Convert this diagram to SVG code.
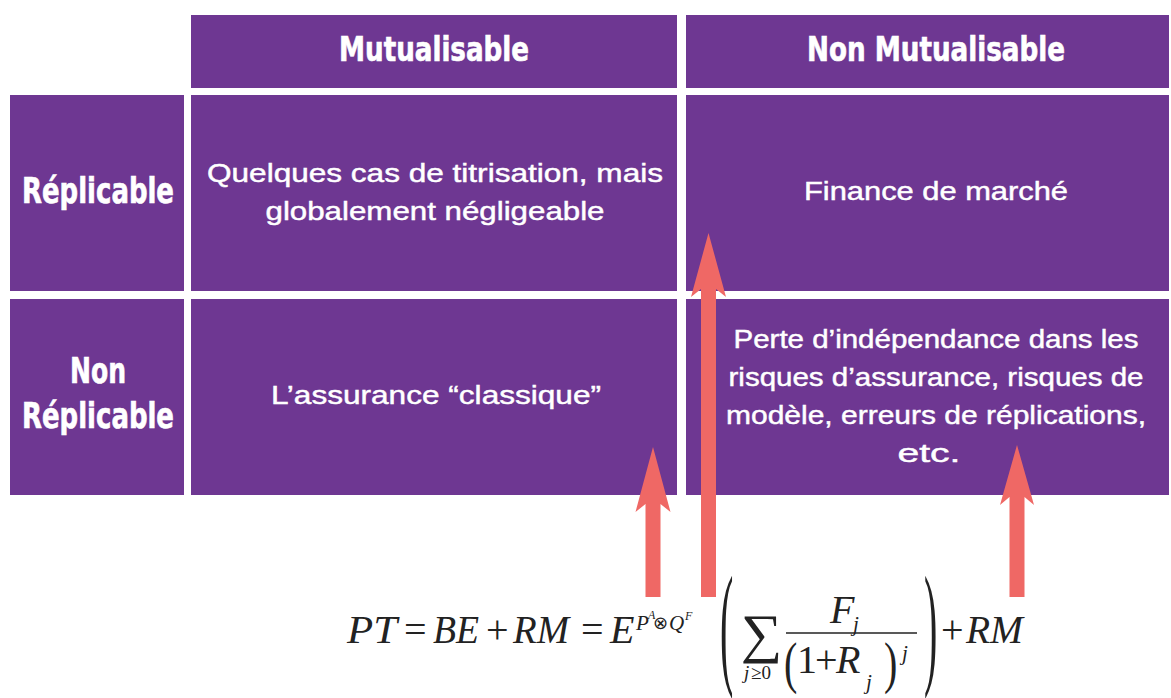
<svg xmlns="http://www.w3.org/2000/svg" width="1171" height="698" viewBox="0 0 1171 698">
<style>
.cell{fill:#6e3792}
.hd{font-family:"Liberation Sans Narrow","DejaVu Sans Condensed","Liberation Sans",sans-serif;font-weight:bold;fill:#ffffff;text-anchor:middle;stroke:#ffffff;stroke-width:0.6}
.bd{font-family:"Liberation Sans",Arial,sans-serif;fill:#ffffff;text-anchor:middle;font-size:26px;stroke:#ffffff;stroke-width:0.45}
.arrow{fill:#ef6865}
.m{font-family:"Liberation Serif","Times New Roman",serif;fill:#222222}
.i{font-style:italic}
</style>
<rect width="1171" height="698" fill="#ffffff"/>
<g id="header-mutualisable">
<rect class="cell" x="191" y="15" width="486" height="73"/>
<text class="hd" x="434" y="61" font-size="33" textLength="190" lengthAdjust="spacingAndGlyphs">Mutualisable</text>
</g>
<g id="header-non-mutualisable">
<rect class="cell" x="686" y="15" width="483" height="73"/>
<text class="hd" x="936" y="61" font-size="33" textLength="258" lengthAdjust="spacingAndGlyphs">Non Mutualisable</text>
</g>
<g id="row-replicable">
<rect class="cell" x="10" y="95" width="174" height="196"/>
<text class="hd" x="98" y="203" font-size="35" textLength="152" lengthAdjust="spacingAndGlyphs">Réplicable</text>
</g>
<g id="row-non-replicable">
<rect class="cell" x="10" y="299" width="174" height="196"/>
<text class="hd" x="98" y="383" font-size="35" textLength="56" lengthAdjust="spacingAndGlyphs">Non</text>
<text class="hd" x="98" y="428" font-size="35" textLength="152" lengthAdjust="spacingAndGlyphs">Réplicable</text>
</g>
<g id="cell-rep-mut">
<rect class="cell" x="191" y="95" width="486" height="196"/>
<text class="bd" x="435" y="182" textLength="456" lengthAdjust="spacingAndGlyphs">Quelques cas de titrisation, mais</text>
<text class="bd" x="435" y="220" textLength="339" lengthAdjust="spacingAndGlyphs">globalement négligeable</text>
</g>
<g id="cell-rep-nonmut">
<rect class="cell" x="686" y="95" width="483" height="196"/>
<text class="bd" x="936" y="200" textLength="264" lengthAdjust="spacingAndGlyphs">Finance de marché</text>
</g>
<g id="cell-nonrep-mut">
<rect class="cell" x="191" y="299" width="486" height="196"/>
<text class="bd" x="436" y="404" textLength="330" lengthAdjust="spacingAndGlyphs">L’assurance “classique”</text>
</g>
<g id="cell-nonrep-nonmut">
<rect class="cell" x="686" y="299" width="483" height="196"/>
<text class="bd" x="936" y="348" textLength="405" lengthAdjust="spacingAndGlyphs">Perte d’indépendance dans les</text>
<text class="bd" x="936" y="386" textLength="415" lengthAdjust="spacingAndGlyphs">risques d’assurance, risques de</text>
<text class="bd" x="936" y="424" textLength="420" lengthAdjust="spacingAndGlyphs">modèle, erreurs de réplications,</text>
<text class="bd" x="929" y="462" textLength="63" lengthAdjust="spacingAndGlyphs">etc.</text>
</g>
<g id="connectors">
<path class="arrow" d="M653,447 L670.5,512 L660.5,504 L660.5,597 L645.5,597 L645.5,504 L635.5,512 Z"/>
<path class="arrow" d="M708.5,233 L726,297 L716,289 L716,597 L701,597 L701,289 L691,297 Z"/>
<path class="arrow" d="M1017,445 L1034,505 L1024.5,497 L1024.5,597 L1009.5,597 L1009.5,497 L1000,505 Z"/>
</g>
<g id="formula" class="m">
<text class="i" x="347" y="643" font-size="40" textLength="50" lengthAdjust="spacingAndGlyphs">PT</text>
<text x="404" y="643" font-size="40">=</text>
<text class="i" x="433" y="643" font-size="40" textLength="46" lengthAdjust="spacingAndGlyphs">BE</text>
<text x="486" y="643" font-size="40">+</text>
<text class="i" x="513" y="643" font-size="40" textLength="56" lengthAdjust="spacingAndGlyphs">RM</text>
<text x="581" y="643" font-size="40">=</text>
<text class="i" x="610" y="643" font-size="40">E</text>
<text class="i" x="636" y="630" font-size="21">P</text>
<text class="i" x="648" y="619" font-size="12">A</text>
<text x="653" y="629" font-size="18">⊗</text>
<text class="i" x="669" y="630" font-size="21">Q</text>
<text class="i" x="685" y="620" font-size="12">F</text>
<text transform="translate(720,670) scale(1,3.37)" font-size="40">(</text>
<text transform="translate(741,652) scale(1.12,1.04)" font-size="52">∑</text>
<text class="i" x="744" y="679" font-size="19">j</text>
<text x="751" y="679" font-size="19">≥0</text>
<text class="i" x="830" y="623" font-size="40">F</text>
<text class="i" x="853" y="631" font-size="21">j</text>
<line x1="786" y1="633" x2="917" y2="633" stroke="#222222" stroke-width="1.6"/>
<text transform="translate(784,682) scale(1,1.43)" font-size="40">(</text>
<text x="797" y="673" font-size="40">1</text>
<text x="815" y="673" font-size="40">+</text>
<text class="i" x="836" y="673" font-size="40">R</text>
<text class="i" x="866" y="689" font-size="21">j</text>
<text transform="translate(884,682) scale(1,1.43)" font-size="40">)</text>
<text class="i" x="902" y="660" font-size="21">j</text>
<text transform="translate(924,670) scale(1,3.37)" font-size="40">)</text>
<text x="941" y="643" font-size="40">+</text>
<text class="i" x="966" y="643" font-size="40" textLength="57" lengthAdjust="spacingAndGlyphs">RM</text>
</g>
</svg>
